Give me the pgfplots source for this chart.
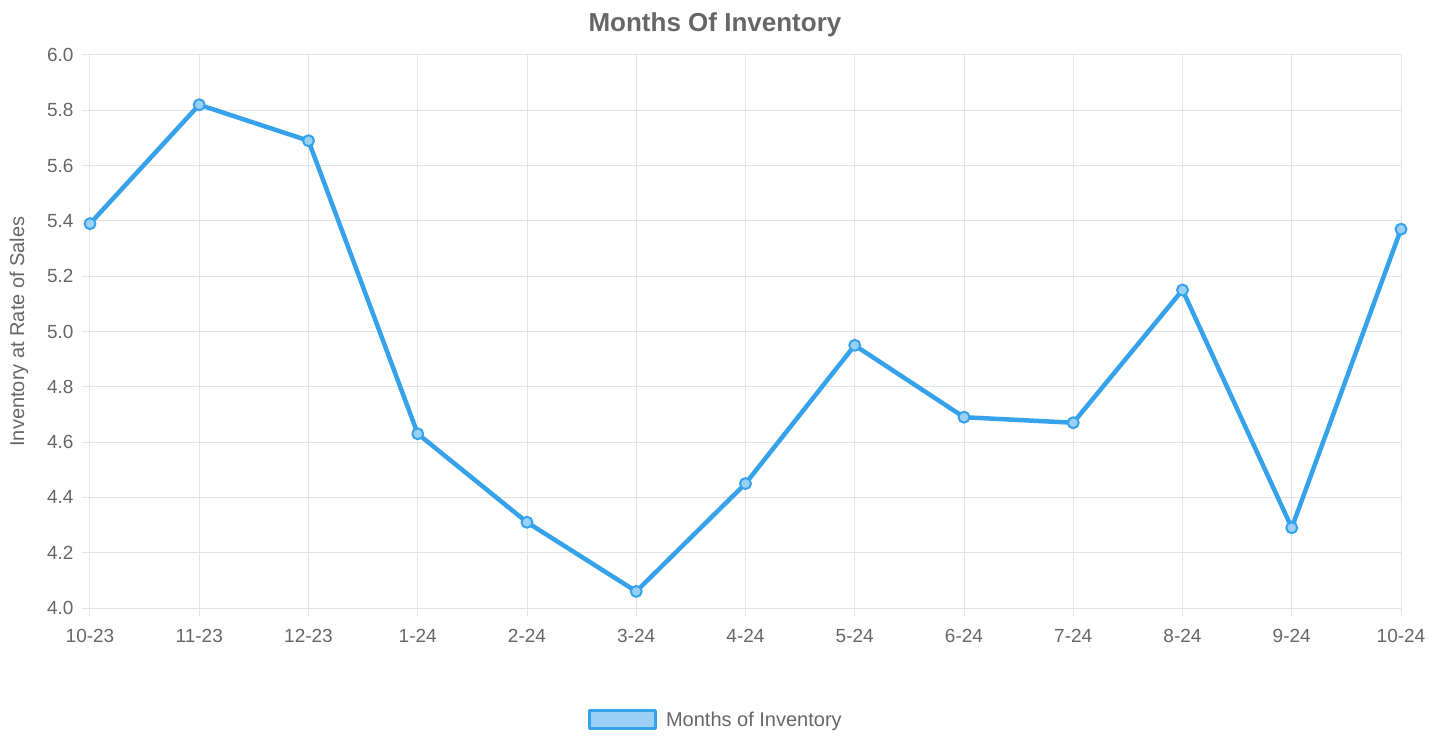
\documentclass[border=0pt]{standalone}
\usepackage{pgfplots}
\pgfplotsset{compat=1.18}
\usepackage{fontspec}
\setmainfont{Liberation Sans}
\definecolor{txt}{HTML}{666666}
\definecolor{grd}{HTML}{E3E3E3}
\definecolor{lineblue}{HTML}{36A2EB}
\definecolor{fillblue}{HTML}{9AD0F5}
\begin{document}
\begin{tikzpicture}
\begin{axis}[
  scale only axis,
  width=1311pt, height=553pt,
  xmin=0, xmax=12, ymin=4.0, ymax=6.0,
  xtick={0,...,12},
  xticklabels={10-23,11-23,12-23,1-24,2-24,3-24,4-24,5-24,6-24,7-24,8-24,9-24,10-24},
  ytick={4.0,4.2,...,6.01},
  /pgf/number format/fixed,
  /pgf/number format/fixed zerofill,
  /pgf/number format/precision=1,
  /pgf/number format/assume math mode=true,
  tick label style={font=\fontsize{19}{22}\selectfont, text=txt},
  xticklabel style={yshift=-10pt},
  yticklabel style={xshift=-5pt},
  grid=major,
  grid style={grd, line width=1pt},
  axis line style={grd, line width=1pt},
  tick style={grd, line width=1pt},
  major tick length=8pt,
  tick align=outside,
  axis lines*=left,
  ylabel={Inventory at Rate of Sales},
  ylabel style={font=\fontsize{20}{24}\selectfont, text=txt, at={(axis description cs:-0.0542,0.5)}, anchor=center},
  title={Months Of Inventory},
  title style={font=\bfseries\fontsize{26}{30}\selectfont, text=txt, at={(axis description cs:0.4767,1)}, anchor=south, yshift=9pt},
  legend style={at={(axis description cs:0.4775,-0.2025)}, anchor=center, draw=none, fill=none,
    font=\fontsize{20}{24}\selectfont, text=txt},
  legend image code/.code={
    \draw[fill=fillblue, draw=lineblue, line width=3pt] (0pt,-9pt) rectangle (66pt,9pt);
    \path (72pt,0pt);
  },
  legend cell align=left,
]
\addplot[lineblue, line width=4.5pt, line join=round, mark=*, mark size=5.5pt,
  mark options={fill=fillblue, draw=lineblue, line width=2pt}]
  coordinates {
  (0,5.39) (1,5.82) (2,5.69) (3,4.63) (4,4.31) (5,4.06) (6,4.45)
  (7,4.95) (8,4.69) (9,4.67) (10,5.15) (11,4.29) (12,5.37)
  };
\addlegendentry{Months of Inventory}
\end{axis}
\path[use as bounding box] (-90pt,-128pt) rectangle (1355pt,608pt);
\end{tikzpicture}
\end{document}
